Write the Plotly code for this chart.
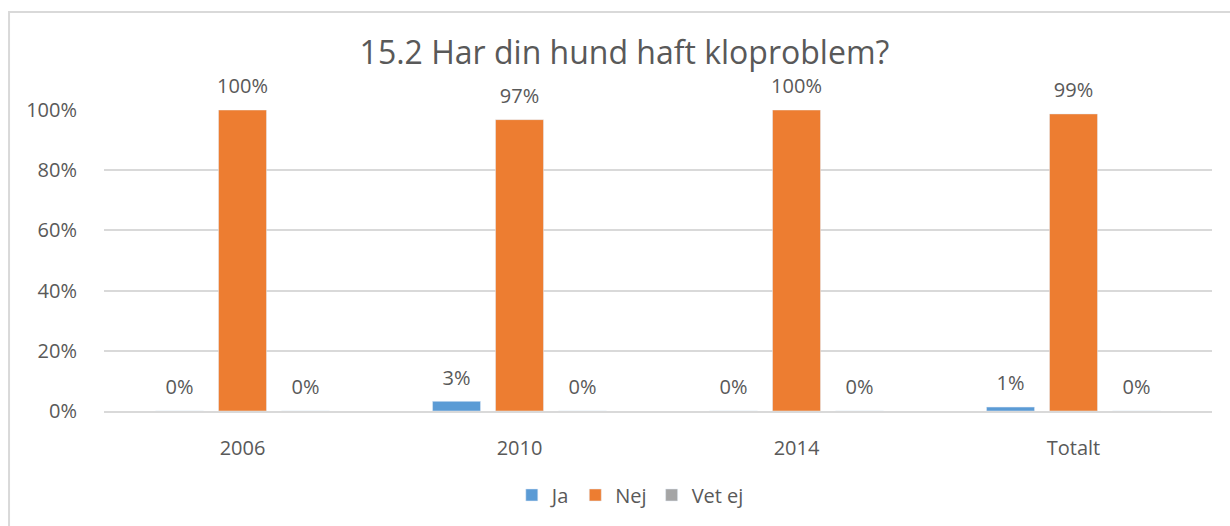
import plotly.graph_objects as go

# Survey answers per year, share of respondents in percent
categories = ["2006", "2010", "2014", "Totalt"]
ja = [0, 3.2, 0, 1.3]
nej = [100, 96.8, 100, 98.7]
vet_ej = [0, 0, 0, 0]

series = [("Ja", ja, "#5B9BD5"), ("Nej", nej, "#ED7D31"), ("Vet ej", vet_ej, "#A5A5A5")]

TEXT = "#595959"
GRID = "#D9D9D9"
FONT = "Open Sans"

fig = go.Figure()
for name, vals, color in series:
    fig.add_trace(go.Bar(
        x=categories, y=vals, name=name, marker_color=color,
        offsetgroup=name, alignmentgroup="a",
        hoverinfo="skip",
    ))
# value labels placed above each bar (invisible marker sets the gap)
for name, vals, color in series:
    fig.add_trace(go.Scatter(
        x=categories, y=vals, mode="markers+text", showlegend=False,
        offsetgroup=name, alignmentgroup="a",
        text=[f"{v:.0f}%" for v in vals], textposition="top center",
        marker=dict(size=17, color="rgba(0,0,0,0)"),
        textfont=dict(family=FONT, size=20, color=TEXT),
        cliponaxis=False, hoverinfo="skip",
    ))

fig.update_layout(
    width=1230, height=526,
    margin=dict(l=104, r=18, t=110, b=115),
    paper_bgcolor="white", plot_bgcolor="white",
    barmode="group", scattermode="group",
    bargap=0.318, bargroupgap=0.238,
    font=dict(family=FONT, color=TEXT, size=20),
    title=dict(text="15.2 Har din hund haft kloproblem?",
               x=0.5077, xref="container", xanchor="center",
               y=0.899, yref="container", yanchor="middle",
               font=dict(family=FONT, size=32, color=TEXT)),
    legend=dict(orientation="h", x=0.475, xanchor="center", y=-0.279, yanchor="middle",
                font=dict(family=FONT, size=20, color=TEXT), traceorder="normal",
                itemwidth=30),
    showlegend=True,
    shapes=[dict(type="rect", xref="paper", yref="paper",
                 x0=-0.0857, x1=1.2, y0=-0.5, y1=1.3256,
                 line=dict(color=GRID, width=2), layer="below")],
)
fig.update_xaxes(showgrid=False, showline=True, linecolor=GRID, linewidth=2,
                 ticks="outside", ticklen=18, tickcolor="rgba(0,0,0,0)",
                 tickfont=dict(family=FONT, size=20, color=TEXT), fixedrange=True)
fig.update_yaxes(range=[0, 100], dtick=20, ticksuffix="%",
                 showgrid=True, gridcolor=GRID, gridwidth=1.5, zeroline=False,
                 ticks="outside", ticklen=22, tickcolor="rgba(0,0,0,0)",
                 tickfont=dict(family=FONT, size=20, color=TEXT), fixedrange=True)

fig.write_html("out.html")
